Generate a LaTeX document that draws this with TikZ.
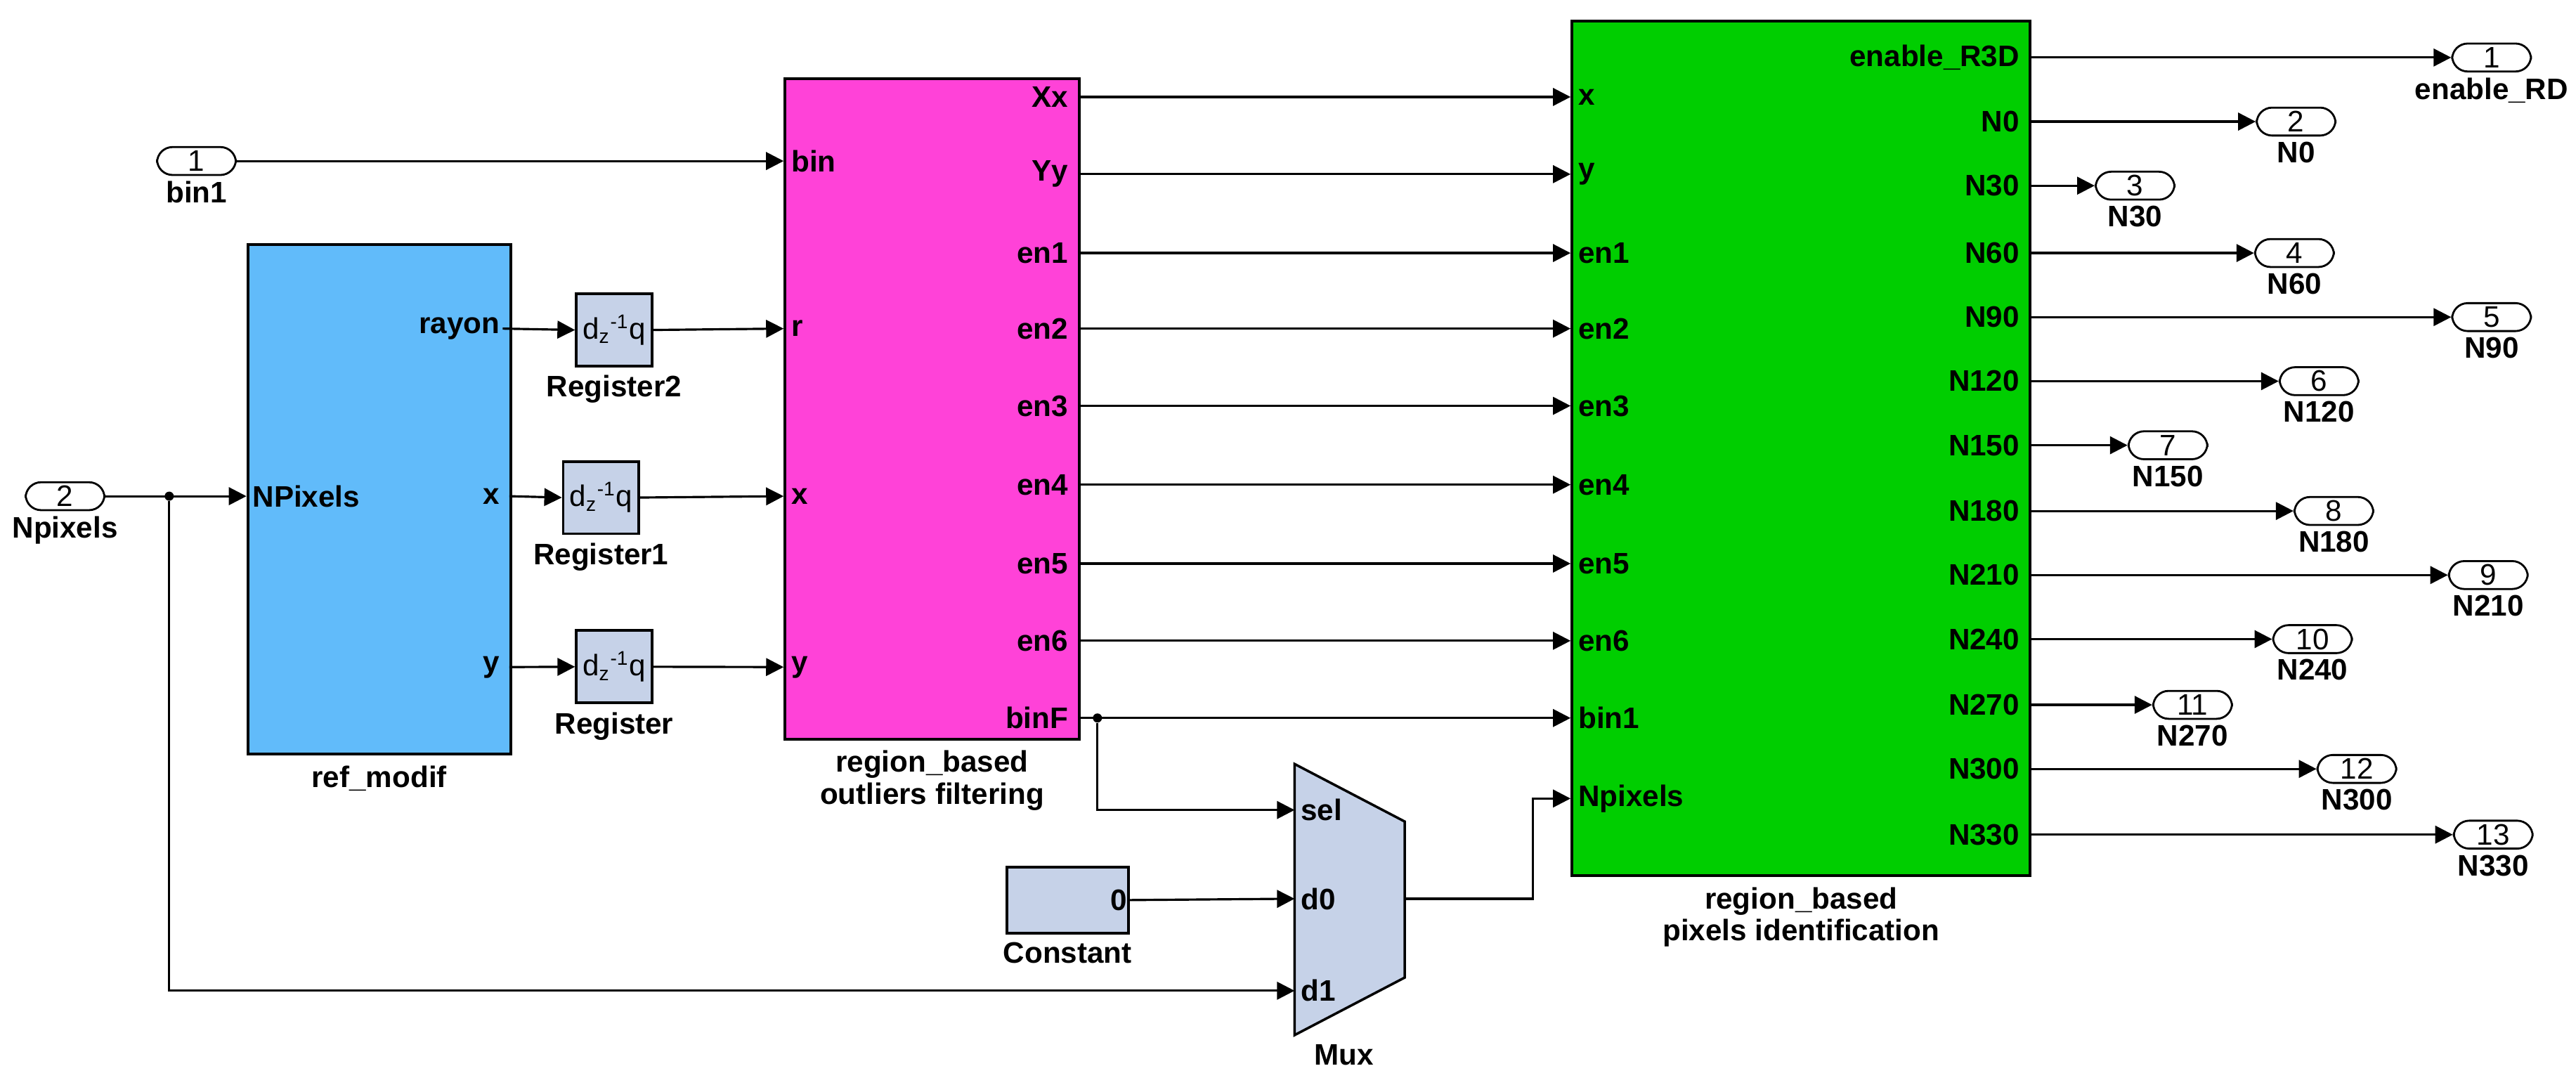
\documentclass[tikz,border=0pt]{standalone}
\usepackage{fontspec}
\setmainfont{Liberation Sans}
\usetikzlibrary{arrows.meta,positioning,calc}
\definecolor{refblue}{RGB}{97,187,250}
\definecolor{refpink}{RGB}{255,66,216}
\definecolor{refgreen}{RGB}{0,206,0}
\definecolor{reggray}{RGB}{198,210,232}
\def\pu{0.02338cm}
\tikzset{
	wire/.style={line width=0.9pt},
	sig/.style={wire,-{Triangle[length=2.5mm,width=2.5mm]}},
	blk/.style={draw,line width=1.1pt,anchor=north west,inner sep=0},
	port/.style={draw,line width=0.8pt,rounded corners=2.2mm,anchor=west,minimum width=48*\pu,minimum height=17*\pu,inner sep=0,font=\fontsize{12}{12}\selectfont},
	lbl/.style={font=\bfseries\fontsize{12}{13}\selectfont,inner sep=1pt},
	jdot/.style={circle,fill,inner sep=0,minimum size=1.3mm}
}
\begin{document}
\begin{tikzpicture}[x=\pu,y=-\pu]
	\useasboundingbox (0,0) rectangle (1568,660);
	% input ports
	\node[port] (bin1) at (95,98) {1};
	\node[lbl,below=1pt of bin1] {bin1};
	\node[port] (npix) at (15,302) {2};
	\node[lbl,below=1pt of npix] {Npixels};
	% ref_modif
	\node[blk,fill=refblue,minimum width=160*\pu,minimum height=310*\pu] (refm) at (150,148) {};
	\node[lbl,below=3pt of refm] {ref\_modif};
	\node[lbl,anchor=west] at (152,302) {NPixels};
	\foreach \n/\y in {rayon/200,x/302,y/406}
		\node[lbl,anchor=east] at (306,\y) {\n};
	% registers
	\foreach \r/\x/\y/\t in {reg2/350/178/Register2,reg1/342/280/Register1,reg0/350/383/Register}{
		\node[blk,fill=reggray,minimum width=46*\pu,minimum height=44*\pu,font=\fontsize{12}{12}\selectfont] (\r) at (\x,\y) {d\textsubscript{z}\textsuperscript{-1}q};
		\node[lbl,below=2pt of \r] {\t};
	}
	% outliers filtering
	\node[blk,fill=refpink,minimum width=179*\pu,minimum height=402*\pu] (pink) at (477,47) {};
	\node[lbl,below=3pt of pink,align=center] {region\_based\\outliers filtering};
	\foreach \n/\y in {bin/98,r/200,x/302,y/406}{
		\coordinate (pi-\n) at (477,\y);
		\node[lbl,anchor=west] at (480,\y) {\n};
	}
	% pixels identification
	\node[blk,fill=refgreen,minimum width=279*\pu,minimum height=520*\pu] (green) at (956,12) {};
	\node[lbl,below=3pt of green,align=center] {region\_based\\pixels identification};
	\foreach \o/\i/\y in {Xx/x/59,Yy/y/106,en1/en1/154,en2/en2/200,en3/en3/247,en4/en4/295,en5/en5/343,en6/en6/390,binF/bin1/437}{
		\coordinate (po-\o) at (656,\y);
		\coordinate (gi-\i) at (956,\y);
		\node[lbl,anchor=east] at (652,\y) {\o};
		\node[lbl,anchor=west] at (959,\y) {\i};
	}
	\coordinate (gi-Npixels) at (956,486);
	\node[lbl,anchor=west] at (959,486) {Npixels};
	\foreach \o/\i in {Xx/x,Yy/y,en1/en1,en2/en2,en3/en3,en4/en4,en5/en5,en6/en6,binF/bin1}
		\draw[sig] (po-\o) -- (gi-\i);
	% constant and mux
	\node[blk,fill=reggray,minimum width=74*\pu,minimum height=40*\pu] (const) at (612,527) {};
	\node[lbl,anchor=east] at (const.east) {0};
	\node[lbl,below=2pt of const] {Constant};
	\draw[line width=1pt,fill=reggray] (788,465) -- (855,500) -- (855,595) -- (788,630) -- cycle;
	\coordinate (mux-sel) at (788,493);
	\coordinate (mux-d0) at (788,547);
	\coordinate (mux-d1) at (788,603);
	\coordinate (mux-out) at (855,547);
	\node[lbl] at (818,642) {Mux};
	\foreach \n in {sel,d0,d1}
		\node[lbl,anchor=west] at ($(mux-\n)+(2,0)$) {\n};
	% wires
	\draw[sig] (bin1.east) -- (pi-bin);
	\draw[sig] (npix.east) -- (refm.west |- npix.east);
	\node[jdot] (jn) at (103,302) {};
	\draw[wire] (jn) |- (500,603);
	\draw[sig] (500,603) -- (mux-d1);
	\draw[sig] (306,200) -- (reg2.west);
	\draw[sig] (310,302) -- (reg1.west);
	\draw[sig] (310,406) -- (reg0.west);
	\draw[sig] (reg2.east) -- (pi-r);
	\draw[sig] (reg1.east) -- (pi-x);
	\draw[sig] (reg0.east) -- (pi-y);
	\node[jdot] (jb) at (668,437) {};
	\draw[sig] (jb) |- (mux-sel);
	\draw[sig] (const.east) -- (mux-d0);
	\draw[sig] (mux-out) -- (933,547) |- (gi-Npixels);
	% output ports
	\foreach \i/\pn/\t/\y/\x in {1/enable\_R3D/enable\_RD/35/1492,2/N0/N0/74/1373,3/N30/N30/113/1275,4/N60/N60/154/1372,5/N90/N90/193/1492,6/N120/N120/232/1387,7/N150/N150/271/1295,8/N180/N180/311/1396,9/N210/N210/350/1490,10/N240/N240/389/1383,11/N270/N270/429/1310,12/N300/N300/468/1410,13/N330/N330/508/1493}{
		\coordinate (go-\i) at (1235,\y);
		\node[lbl,anchor=east] at (1231,\y) {\pn};
		\node[port] (out\i) at (\x,\y) {\i};
		\node[lbl,below=1pt of out\i] {\t};
		\draw[sig] (go-\i) -- (out\i.west);
	}
\end{tikzpicture}
\end{document}
